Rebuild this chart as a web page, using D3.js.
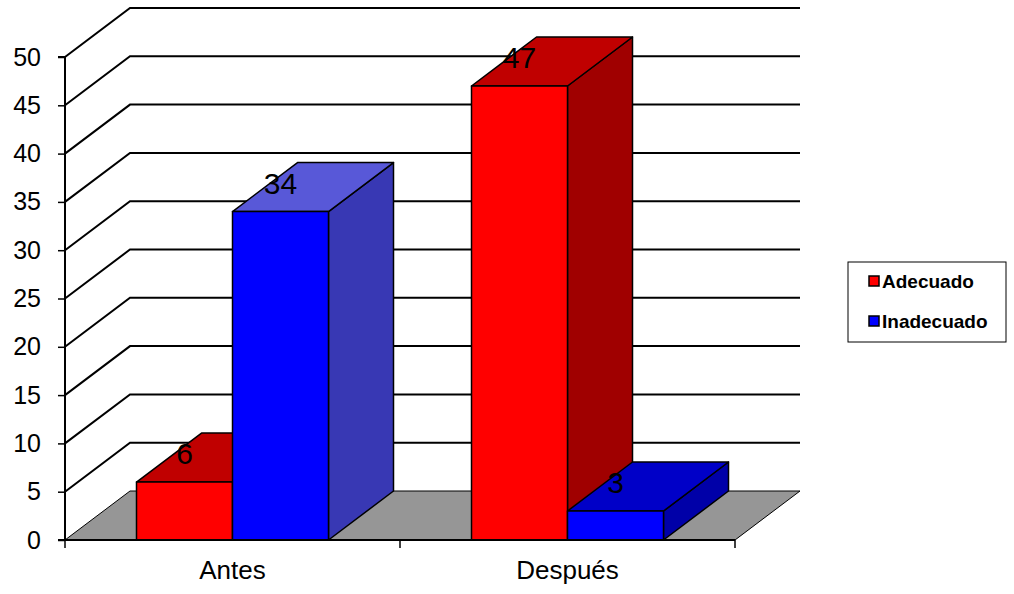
<!DOCTYPE html>
<html><head><meta charset="utf-8">
<script src="https://cdn.jsdelivr.net/npm/d3@7"></script>
<style>body{margin:0;background:#fff}svg{display:block}text{font-family:Arial,"Liberation Sans",sans-serif}</style>
</head><body>
<svg id="c" width="1014" height="594"></svg>
<script>
const categories = ["Antes", "Después"];
const seriesNames = ["Adecuado", "Inadecuado"];
const adecuado = [6, 47];
const inadecuado = [34, 3];
const yTicks = [0, 5, 10, 15, 20, 25, 30, 35, 40, 45, 50];

const svg = d3.select("#c");
const DX = 65, DY = -49;
const x = d3.scaleBand().domain(categories).range([65, 735]);
const y = d3.scaleLinear().domain([0, 50]).range([540, 57]);
const groupW = 192;
const xs = d3.scaleBand().domain(seriesNames).range([-groupW/2, groupW/2]);

const colors = {
  Adecuado: [{front:"#ff0000", top:"#c00000", side:"#a00000"},{front:"#ff0000", top:"#c00000", side:"#a00000"}],
  Inadecuado: [{front:"#0000ff", top:"#5858d8", side:"#3838b4"},{front:"#0000ff", top:"#0000c8", side:"#0000a8"}]
};

// gridlines (left wall + back wall)
const g = svg.append("g");
yTicks.filter(v => v > 0).forEach(v => {
  const yy = y(v);
  g.append("path")
    .attr("d", `M65,${yy}L${65+DX},${yy+DY}L800,${yy+DY}`)
    .attr("fill", "none").attr("stroke", "#000").attr("stroke-width", 2);
});

// floor
svg.append("path")
  .attr("d", `M65,${y(0)}L735,${y(0)}L${735+DX},${y(0)+DY}L${65+DX},${y(0)+DY}Z`)
  .attr("fill", "#969696").attr("stroke", "#000").attr("stroke-width", 1);

// y axis
const yAxis = d3.axisLeft(y).tickValues(yTicks).tickSize(7).tickPadding(17).tickFormat(d3.format("d"));
const ya = svg.append("g").attr("transform", "translate(65,0)").call(yAxis);
ya.select(".domain").attr("stroke", "#000").attr("stroke-width", 2).attr("d", `M-7,${y(50)}H0V${y(0)}H-7`);
ya.selectAll(".tick line").attr("stroke", "#000").attr("stroke-width", 1.5);
ya.selectAll(".tick text").attr("font-size", 25).attr("fill", "#000").attr("font-family", "Arial, 'Liberation Sans', sans-serif");

// bars
const data = [];
categories.forEach((c, i) => {
  data.push({cat: c, s: "Adecuado", v: adecuado[i], ci: i});
  data.push({cat: c, s: "Inadecuado", v: inadecuado[i], ci: i});
});
const bars = svg.append("g");
data.forEach(d => {
  const x0 = x(d.cat) + x.bandwidth()/2 + xs(d.s);
  const x1 = x0 + xs.bandwidth();
  const yt = y(d.v), yb = y(0);
  const col = colors[d.s][d.ci];
  const bg = bars.append("g").attr("stroke", "#000").attr("stroke-width", 1.5).attr("stroke-linejoin", "round");
  bg.append("path").attr("d", `M${x1},${yb}L${x1+DX},${yb+DY}L${x1+DX},${yt+DY}L${x1},${yt}Z`).attr("fill", col.side);
  bg.append("path").attr("d", `M${x0},${yt}L${x0+DX},${yt+DY}L${x1+DX},${yt+DY}L${x1},${yt}Z`).attr("fill", col.top);
  bg.append("rect").attr("x", x0).attr("y", yt).attr("width", x1-x0).attr("height", yb-yt).attr("fill", col.front);
  d.lx = (x0 + x1)/2; d.ly = yt;
});
data.forEach(d => {
  svg.append("text").attr("x", d.lx).attr("y", d.ly - 18).attr("text-anchor", "middle")
    .attr("font-size", 30).attr("fill", "#000").text(d.v);
});

// x axis
const xAxis = d3.axisBottom(x).tickSize(0).tickPadding(21);
const xa = svg.append("g").attr("transform", `translate(0,${y(0)})`).call(xAxis);
xa.select(".domain").attr("stroke", "#000").attr("stroke-width", 2).attr("d", "M65,0H735");
xa.selectAll(".tick text").attr("font-size", 26).attr("fill", "#000").attr("font-family", "Arial, 'Liberation Sans', sans-serif");
[65, 400, 735].forEach(t => xa.append("line").attr("x1", t).attr("x2", t).attr("y1", 0).attr("y2", 8).attr("stroke", "#000").attr("stroke-width", 1.5));

// legend
const lg = svg.append("g");
lg.append("rect").attr("x", 848).attr("y", 262).attr("width", 158).attr("height", 80).attr("fill", "#fff").attr("stroke", "#000").attr("stroke-width", 1);
seriesNames.forEach((s, i) => {
  const yy = 281 + i*40;
  lg.append("rect").attr("x", 869).attr("y", yy - 5).attr("width", 10).attr("height", 10)
    .attr("fill", colors[s][0].front).attr("stroke", "#000").attr("stroke-width", 1.5);
  lg.append("text").attr("x", 882).attr("y", yy + 7).attr("font-size", 19).attr("font-weight", "bold").attr("fill", "#000").text(s);
});
</script>
</body></html>
